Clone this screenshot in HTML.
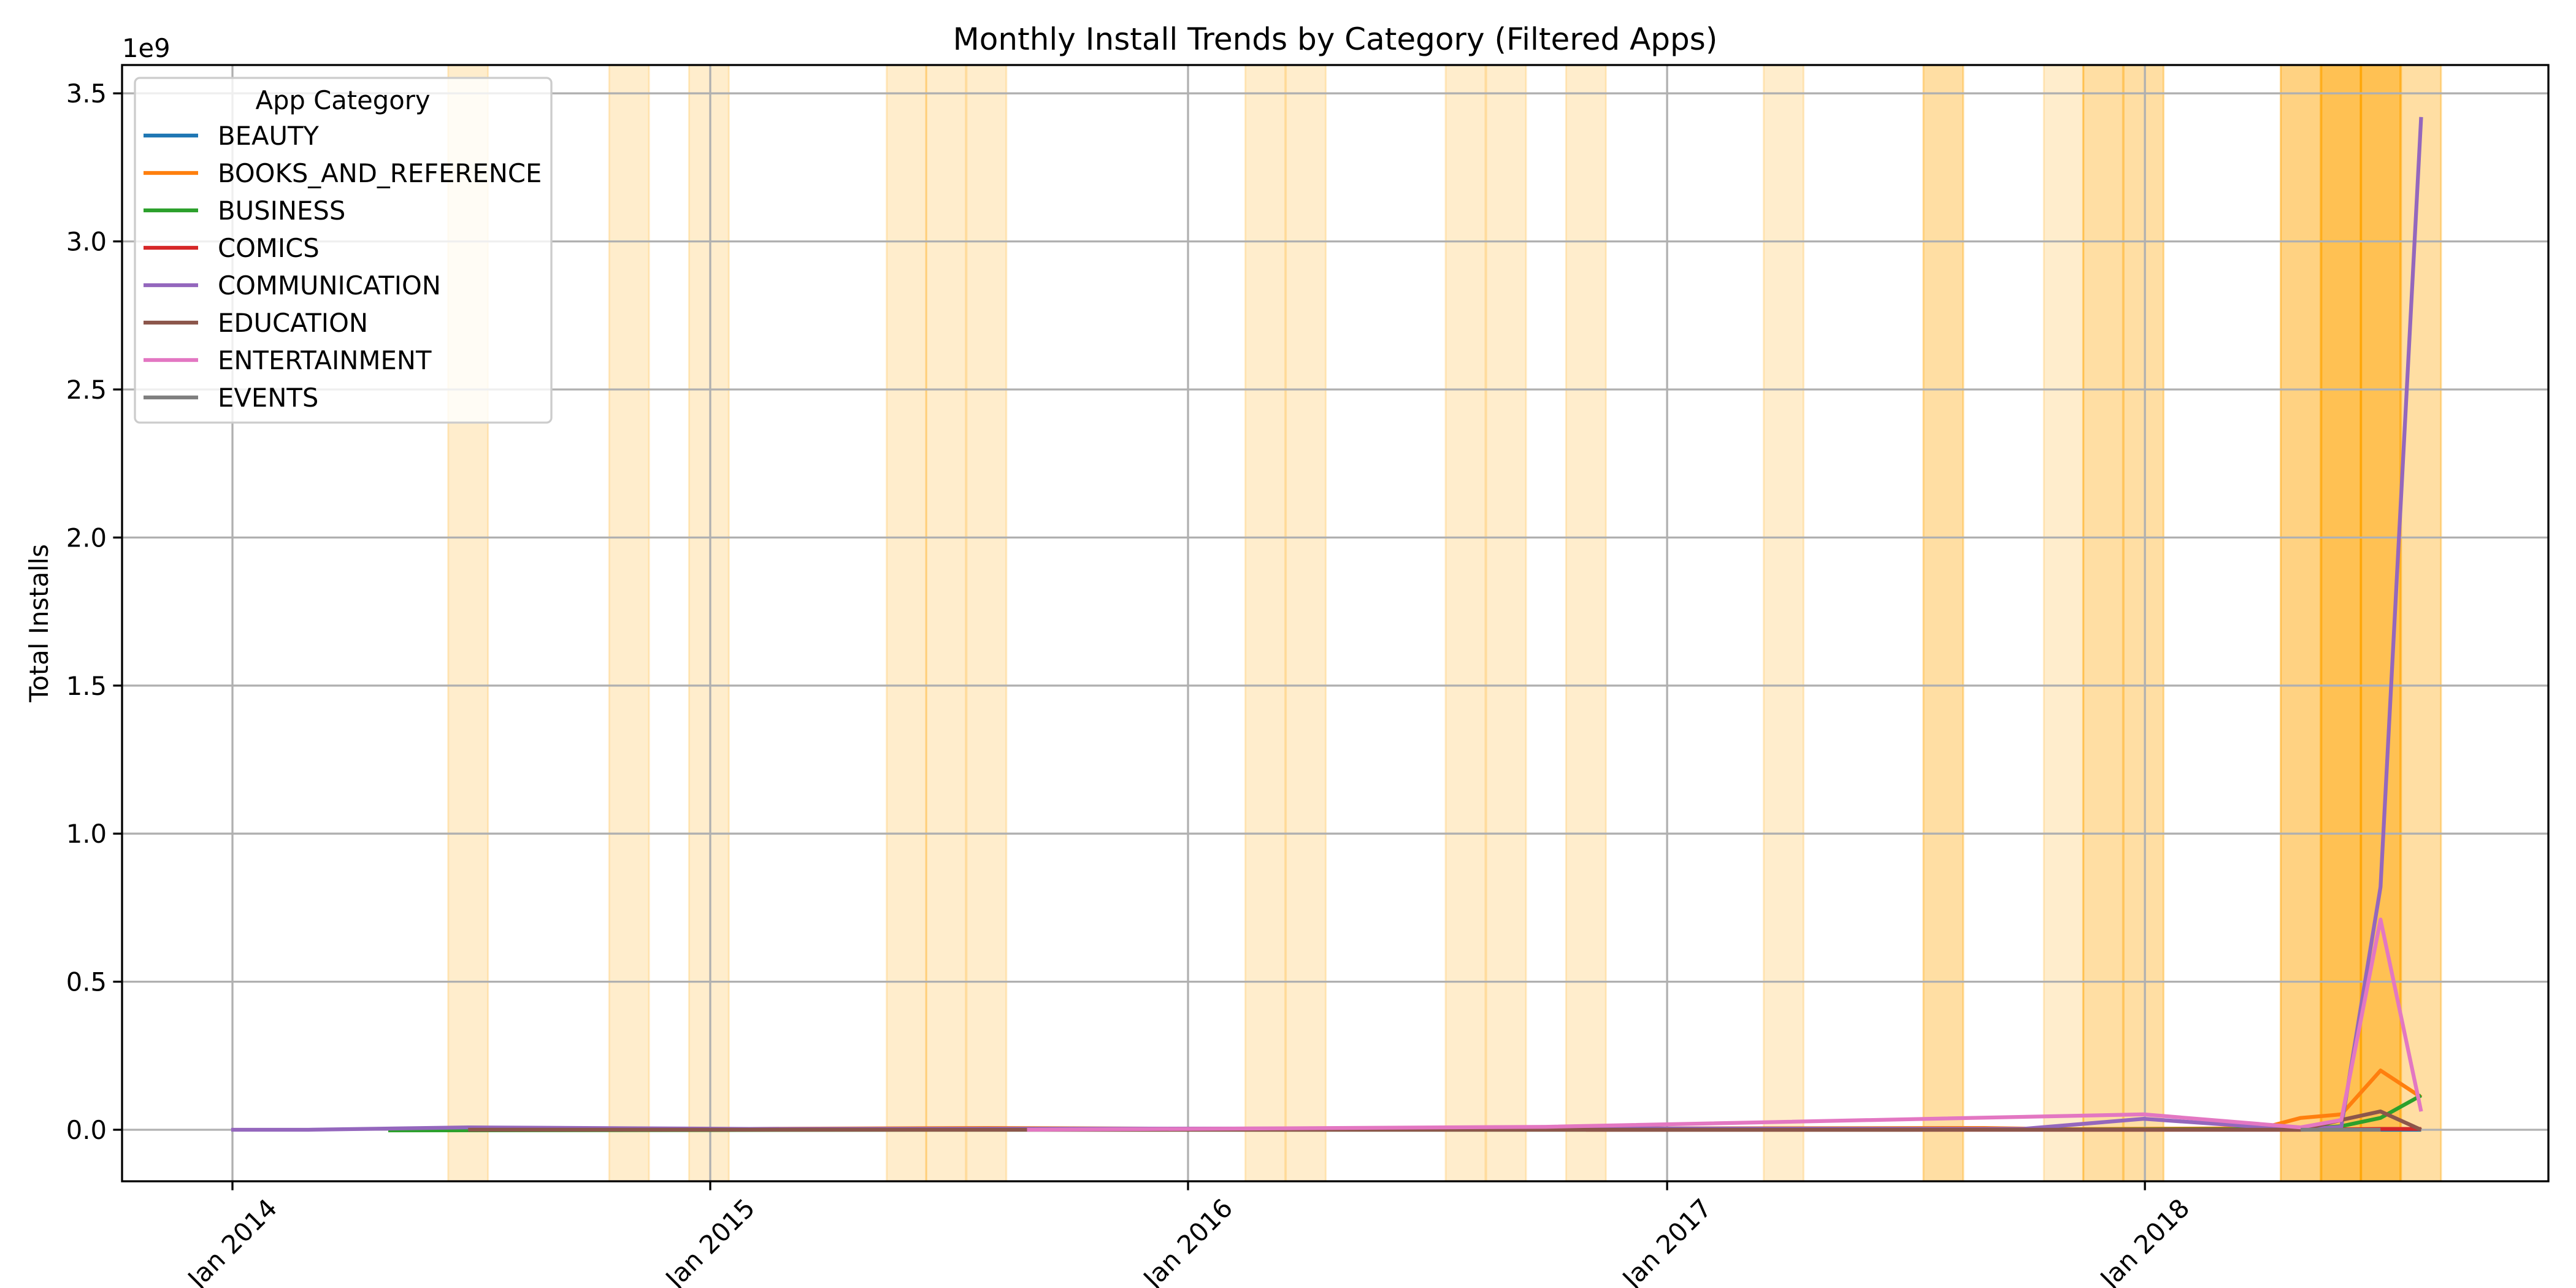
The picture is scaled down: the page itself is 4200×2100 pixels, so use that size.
<!DOCTYPE html>
<html><head><meta charset="utf-8"><style>
html,body{margin:0;padding:0;background:#fff;}
svg{display:block;font-family:"DejaVu Sans","Liberation Sans",sans-serif;}
</style></head><body>
<svg id="chart" width="4200" height="2100" viewBox="0 0 4200 2100" xmlns="http://www.w3.org/2000/svg">
<rect width="4200" height="2100" fill="#fff"/>
<g id="bands"></g>
<g id="grid"></g>
<g id="series"></g>
<g id="axes"></g>
<text x="2177" y="81" font-size="50" text-anchor="middle">Monthly Install Trends by Category (Filtered Apps)</text>
<text x="0" y="0" font-size="41.7" text-anchor="middle" transform="translate(78,1016) rotate(-90)">Total Installs</text>
<text x="199" y="93" font-size="41.7">1e9</text>
<g id="legend"></g>
</svg>
<script>
const categories = ["BEAUTY","BOOKS_AND_REFERENCE","BUSINESS","COMICS","COMMUNICATION","EDUCATION","ENTERTAINMENT","EVENTS"];
const colors = ["#1f77b4","#ff7f0e","#2ca02c","#d62728","#9467bd","#8c564b","#e377c2","#7f7f7f"];
// months (month-end) and values (in 1e9 installs)
const beautyMonths = ["2018-06","2018-07"];
const beautyValues = [0.0,0.0];
const booksMonths = ["2015-01","2015-07","2016-01","2017-08","2017-10","2018-03","2018-04","2018-05","2018-06","2018-07"];
const booksValues = [0.003,0.006,0.003,0.006,0.002,0.005,0.04,0.052,0.2,0.11];
const businessMonths = ["2014-04","2015-06","2017-06","2018-04","2018-05","2018-06","2018-07"];
const businessValues = [-0.002,0.0,0.0,0.002,0.012,0.04,0.116];
const comicsMonths = ["2016-10","2017-10","2018-04","2018-06","2018-07"];
const comicsValues = [0.0,0.0,0.0,0.003,0.003];
const commMonths = ["2013-12","2014-02","2014-06","2015-01","2016-09","2017-09","2017-12","2018-04","2018-05","2018-06","2018-07"];
const commValues = [0.0,0.0,0.008,0.003,0.005,0.003,0.037,0.0,0.01,0.82,3.42];
const eduMonths = ["2014-06","2015-09","2017-06","2018-04","2018-05","2018-06","2018-07"];
const eduValues = [0.0,0.0,0.0,0.0,0.033,0.062,0.0];
const entMonths = ["2015-08","2016-09","2017-12","2018-04","2018-05","2018-06","2018-07"];
const entValues = [0.0,0.01,0.052,0.008,0.033,0.71,0.062];
const eventsMonths = ["2018-04","2018-05","2018-06"];
const eventsValues = [0.0,0.0,0.0];
const seriesMonths = [beautyMonths,booksMonths,businessMonths,comicsMonths,commMonths,eduMonths,entMonths,eventsMonths];
const seriesValues = [beautyValues,booksValues,businessValues,comicsValues,commValues,eduValues,entValues,eventsValues];
// highlighted months and overlap counts
const bandMonths = ["2014-06","2014-10","2014-12","2015-05","2015-06","2015-07","2016-02","2016-03","2016-07","2016-08","2016-10","2017-03","2017-07","2017-10","2017-11","2017-12","2018-04","2018-05","2018-06","2018-07"];
const bandCounts = [1,1,1,1,1,1,1,1,1,1,1,1,2,1,2,2,3,5,5,2];
const yTicks = [0.0,0.5,1.0,1.5,2.0,2.5,3.0,3.5];
const yTickLabels = ["0.0","0.5","1.0","1.5","2.0","2.5","3.0","3.5"];
const xTickYears = [2014,2015,2016,2017,2018];
const xTickLabels = ["Jan 2014","Jan 2015","Jan 2016","Jan 2017","Jan 2018"];

const NS="http://www.w3.org/2000/svg";
const L=199,R=4155,T=106,B=1926;
const day0=Date.UTC(2014,0,1);
const pxPerDay=779/365;
function dayOf(ms){return (ms-day0)/86400000;}
function xDate(ms){return 379+dayOf(ms)*pxPerDay;}
function monthEnd(s){const [y,m]=s.split("-").map(Number);return Date.UTC(y,m,0);}
function xMonth(s){return xDate(monthEnd(s));}
function yVal(v){return 1842-v*482.8;}
function mk(tag,attrs,parent){const e=document.createElementNS(NS,tag);for(const k in attrs)e.setAttribute(k,attrs[k]);parent.appendChild(e);return e;}

const gb=document.getElementById("bands");
bandMonths.forEach((m,i)=>{
  const c=xMonth(m);
  for(let k=0;k<bandCounts[i];k++){
    const r=mk("rect",{x:c-32.5,y:T,width:65,height:B-T,fill:"#ffa500","fill-opacity":0.2,stroke:"#ffa500","stroke-opacity":0.2,"stroke-width":3},gb);
    
    
  }
});

const gg=document.getElementById("grid");
const ga=document.getElementById("axes");
yTicks.forEach((v,i)=>{
  const y=yVal(v);
  const gl=mk("line",{x1:L,x2:R,y1:y,y2:y,stroke:"#b0b0b0","stroke-width":3.3},gg);
  
  
  const tk=mk("line",{x1:L-14.6,x2:L,y1:y,y2:y,stroke:"#000","stroke-width":3.3},ga);
  
  
  const t=mk("text",{x:L-25,y:y+15,"font-size":41.7,"text-anchor":"end"},ga);
  t.textContent=yTickLabels[i];
  
  
});
xTickYears.forEach((yr,i)=>{
  const x=xDate(Date.UTC(yr,0,1));
  const gl=mk("line",{x1:x,x2:x,y1:T,y2:B,stroke:"#b0b0b0","stroke-width":3.3},gg);
  
  
  const tk=mk("line",{x1:x,x2:x,y1:B,y2:B+14.6,stroke:"#000","stroke-width":3.3},ga);
  
  
  const t=mk("text",{x:0,y:0,"font-size":41.7,"text-anchor":"middle","dominant-baseline":"central",transform:`translate(${x},${2027}) rotate(-45)`},ga);
  t.textContent=xTickLabels[i];
  
  
});
const frame=mk("rect",{x:L,y:T,width:R-L,height:B-T,fill:"none",stroke:"#000","stroke-width":3.3},ga);



const gs=document.getElementById("series");
categories.forEach((c,i)=>{
  const pts=seriesMonths[i].map((m,j)=>xMonth(m).toFixed(1)+","+yVal(seriesValues[i][j]).toFixed(1)).join(" ");
  const p=mk("polyline",{points:pts,fill:"none",stroke:colors[i],"stroke-width":6.25,"stroke-linejoin":"round","stroke-linecap":"butt"},gs);
  
  
});

const gl=document.getElementById("legend");
const box=mk("rect",{x:220,y:127,width:679,height:562,rx:8,fill:"#fff","fill-opacity":0.8,stroke:"#cccccc","stroke-width":3.3},gl);


const lt=mk("text",{x:559,y:178,"font-size":41.7,"text-anchor":"middle"},gl);
lt.textContent="App Category";


categories.forEach((c,i)=>{
  const y=221+i*61;
  const g=mk("g",{},gl);
  
  
  mk("line",{x1:234,x2:323,y1:y,y2:y,stroke:colors[i],"stroke-width":6.25},g);
  const t=mk("text",{x:355,y:y+15,"font-size":41.7},g);
  t.textContent=c;
});
</script>
</body></html>
